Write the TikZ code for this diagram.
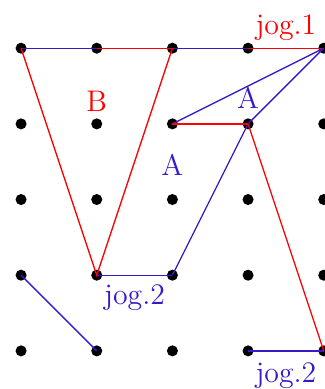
\documentclass[tikz,border=0pt]{standalone}
\usepackage{tikz}
\definecolor{myblue}{RGB}{55,25,200}
\definecolor{myred}{RGB}{255,0,0}
\begin{document}
\begin{tikzpicture}[x=1cm,y=1cm,
  dot/.style={circle,fill=black,inner sep=0pt,minimum size=0.146cm},
  bl/.style={draw=myblue,line width=0.5pt},
  rd/.style={draw=myred,line width=0.5pt},
  lab/.style={font=\fontsize{11.2}{13}\selectfont,inner sep=0pt}]
\useasboundingbox (-0.2785,-0.504) rectangle (4.0135,4.637);
\foreach \i in {0,...,4}{
  \foreach \j in {0,...,4}{
    \node[dot] (p\i\j) at (\i,\j) {};
  }
}
% top row
\draw[bl] (p04.center) -- (p14.center);
\draw[rd] (p14.center) -- (p24.center);
\draw[bl] (p24.center) -- (p34.center);
\draw[rd] (p34.center) -- (p44.center);
% red V
\draw[rd] (p04.center) -- (p11.center) -- (p24.center);
% blue
\draw[bl] (p23.center) -- (p44.center);
\draw[bl] (p44.center) -- (p33.center) -- (p21.center);
\draw[bl] (p11.center) -- (p21.center);
\draw[bl] (p01.center) -- (p10.center);
\draw[bl] (p30.center) -- (p40.center);
% red
\draw[rd] (p23.center) -- (p33.center);
\draw[rd] (p33.center) -- (p40.center);
% labels
\node[lab,text=myred] (l1) at (3.5,4.27) {jog.1};
\node[lab,text=myred] (lB) at (1.0,3.3) {B};
\node[lab,text=myblue] (lA1) at (3.0,3.34) {A};
\node[lab,text=myblue] (lA2) at (2.0,2.46) {A};
\node[lab,text=myblue] (lj2a) at (1.5,0.7) {jog.2};
\node[lab,text=myblue] (lj2b) at (3.5,-0.33) {jog.2};
\end{tikzpicture}
\end{document}
